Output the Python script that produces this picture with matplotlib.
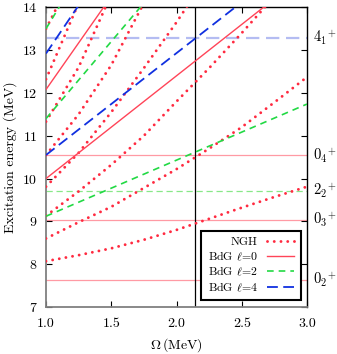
import matplotlib
matplotlib.use("Agg")
import matplotlib.pyplot as plt

plt.rcParams['font.family'] = 'serif'
plt.rcParams['font.serif'] = ['cmr10', 'DejaVu Serif']
plt.rcParams['mathtext.fontset'] = 'cm'
plt.rcParams['axes.formatter.use_mathtext'] = True

# Omega grid (MeV) for the NGH curves
omega = [1.0, 1.25, 1.5, 1.75, 2.0, 2.25, 2.5, 2.75, 3.0]

# NGH excitation energies (MeV) along the grid (steep ones leave the frame early)
ngh_1 = [8.07, 8.21, 8.37, 8.57, 8.80, 9.06, 9.32, 9.57, 9.81]
ngh_2 = [8.60, 8.98, 9.34, 9.78, 10.22, 10.70, 11.20, 11.78, 12.37]
ngh_3 = [9.13, 9.70, 10.32, 11.00, 11.80, 12.58, 13.40, 14.25, 15.10]
ngh_4 = [9.81, 10.60, 11.55, 12.58, 13.65, 14.80]
ngh_5 = [10.55, 11.50, 12.65, 14.10]
ngh_6 = [11.33, 12.60, 14.30]
ngh_7 = [12.32, 14.10]
ngh_8 = [13.50, 15.00]
ngh_curves = [ngh_1, ngh_2, ngh_3, ngh_4, ngh_5, ngh_6, ngh_7, ngh_8]

# BdG levels: values at Omega = 1.0 and 3.0
omega_ends = [1.0, 3.0]
bdg_l0 = [[10.00, 14.80], [12.08, 20.78]]
bdg_l2 = [[9.12, 11.74], [11.40, 18.60], [13.50, 23.50]]
bdg_l4 = [[10.55, 15.31], [12.92, 21.92]]

# experimental levels (MeV) shown as horizontal lines
exp_levels = [13.29, 10.54, 9.72, 9.03, 7.63]
exp_labels = ['$4_1{}^{+}$', '$0_4{}^{+}$', '$2_2{}^{+}$', '$0_3{}^{+}$', '$0_2{}^{+}$']
exp_kinds = ['l4', 'l0', 'l2', 'l0', 'l0']

omega_mark = 2.144

c_ngh = '#ff2a40'
c_l0 = '#ff4458'
c_l2 = '#22d944'
c_l4 = '#1030e0'
exp_style = {
    'l0': dict(color='#ff9aa4', linestyle='-', linewidth=0.9),
    'l2': dict(color='#88e888', linestyle=(0, (5, 3)), linewidth=0.9),
    'l4': dict(color='#b4bcf2', linestyle=(0, (6, 3)), linewidth=1.6),
}

fig = plt.figure(figsize=(3.37, 3.54), dpi=100)
ax = fig.add_axes([0.1365, 0.1328, 0.7745, 0.8466])

for e, kind in zip(exp_levels, exp_kinds):
    ax.axhline(e, zorder=1, **exp_style[kind])

dots = (0, (0.01, 2.3))
for i, vals in enumerate(ngh_curves):
    ax.plot(omega[:len(vals)], vals, color=c_ngh, linestyle=dots, linewidth=2.1,
            dash_capstyle='round', label='NGH' if i == 0 else None, zorder=3)
for i, vals in enumerate(bdg_l0):
    ax.plot(omega_ends, vals, color=c_l0, linewidth=1.0,
            label=r'BdG $\ell$=0' if i == 0 else None, zorder=3)
for i, vals in enumerate(bdg_l2):
    ax.plot(omega_ends, vals, color=c_l2, linewidth=1.2, linestyle=(0, (4, 3)),
            label=r'BdG $\ell$=2' if i == 0 else None, zorder=3)
for i, vals in enumerate(bdg_l4):
    ax.plot(omega_ends, vals, color=c_l4, linewidth=1.3, linestyle=(0, (6, 3)),
            label=r'BdG $\ell$=4' if i == 0 else None, zorder=3)

ax.axvline(omega_mark, color='black', linewidth=0.9, zorder=2)

ax.set_xlim(1.0, 3.0)
ax.set_ylim(7, 14)
ax.set_xticks([1.0, 1.5, 2.0, 2.5, 3.0])
ax.set_xticklabels(['1.0', '1.5', '2.0', '2.5', '3.0'])
ax.set_yticks(range(7, 15))
ax.tick_params(direction='in', length=4, width=0.8, top=True, right=True,
               labelsize=10)
ax.tick_params(axis='x', pad=8)
ax.tick_params(axis='y', pad=6)
for side in ['left', 'bottom']:
    ax.spines[side].set_color('#808080')
    ax.spines[side].set_linewidth(1.3)
for side in ['top', 'right']:
    ax.spines[side].set_color('black')
    ax.spines[side].set_linewidth(1.0)

ax.set_xlabel(r'$\Omega\,$(MeV)', fontsize=10, labelpad=4)
ax.set_ylabel('Excitation energy (MeV)', fontsize=10, labelpad=4)

for e, lab in zip(exp_levels, exp_labels):
    ax.text(1.022, e, lab, transform=ax.get_yaxis_transform(), fontsize=10.5,
            va='center', ha='left')

leg = ax.legend(loc='lower right', bbox_to_anchor=(0.976, 0.023), borderaxespad=0,
                markerfirst=False, fontsize=8.5, handlelength=2.3, handletextpad=0.8,
                labelspacing=0.18, borderpad=0.55, fancybox=False, framealpha=1,
                edgecolor='black')
leg.get_frame().set_linewidth(1.5)

fig.savefig('out.png', dpi=100)
